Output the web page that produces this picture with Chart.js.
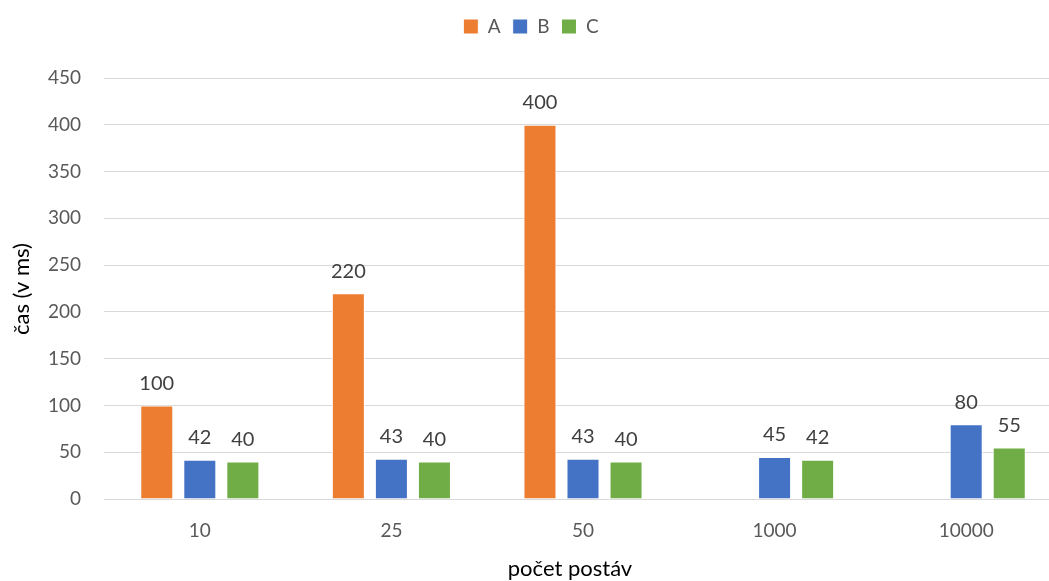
<!DOCTYPE html>
<html>
<head>
<meta charset="utf-8">
<script src="https://cdn.jsdelivr.net/npm/chart.js@4/dist/chart.umd.min.js"></script>
<style>
  html, body { margin: 0; padding: 0; background: #fff; overflow: hidden; }
  #wrap { position: relative; width: 1075px; height: 581px; }
</style>
</head>
<body>
<div id="wrap"><canvas id="c" width="1075" height="581"></canvas></div>
<script>
// Categories (number of characters) and measured times per variant
const categories = ['10', '25', '50', '1000', '10000'];
const seriesA = [100, 220, 400, null, null];
const seriesB = [42, 43, 43, 45, 80];
const seriesC = [40, 40, 40, 42, 55];
const yTicks = [0, 50, 100, 150, 200, 250, 300, 350, 400, 450];

const FONT = 'Lato, "Open Sans", sans-serif';

// Extra room between the legend row and the plot
const legendGap = {
  id: 'legendGap',
  beforeInit(chart) {
    const legend = chart.legend;
    if (!legend) return;
    const fit = legend.fit;
    legend.fit = function () {
      fit.call(this);
      this.height += 32;
    };
  }
};

// Value labels above each bar
const valueLabels = {
  id: 'valueLabels',
  afterDatasetsDraw(chart) {
    const ctx = chart.ctx;
    ctx.save();
    ctx.font = '20px ' + FONT;
    ctx.fillStyle = '#404040';
    ctx.textAlign = 'center';
    ctx.textBaseline = 'bottom';
    chart.data.datasets.forEach((ds, i) => {
      const meta = chart.getDatasetMeta(i);
      meta.data.forEach((bar, j) => {
        const v = ds.data[j];
        if (v === null || v === undefined) return;
        ctx.fillText(String(v), bar.x, bar.y - 12);
      });
    });
    ctx.restore();
  }
};

// Axis titles
const axisTitles = {
  id: 'axisTitles',
  afterDraw(chart) {
    const ctx = chart.ctx;
    ctx.save();
    ctx.font = '22px ' + FONT;
    ctx.fillStyle = '#000';
    ctx.textAlign = 'center';
    ctx.textBaseline = 'middle';
    ctx.fillText('počet postáv', 570, 569);
    ctx.translate(22, 289);
    ctx.rotate(-Math.PI / 2);
    ctx.fillText('čas (v ms)', 0, 0);
    ctx.restore();
  }
};

new Chart(document.getElementById('c'), {
  type: 'bar',
  data: {
    labels: categories,
    datasets: [
      { label: 'A', data: seriesA, backgroundColor: '#ED7D31' },
      { label: 'B', data: seriesB, backgroundColor: '#4472C4' },
      { label: 'C', data: seriesC, backgroundColor: '#70AD47' }
    ]
  },
  options: {
    responsive: false,
    animation: false,
    devicePixelRatio: 1,
    layout: { padding: { top: 5, left: 0, right: 13, bottom: 0 } },
    datasets: {
      bar: {
        categoryPercentage: 0.674,
        barPercentage: 0.767,
        borderColor: '#ffffff',
        borderWidth: 1,
        skipNull: false
      }
    },
    plugins: {
      legend: {
        position: 'top',
        labels: {
          boxWidth: 15,
          boxHeight: 15,
          padding: 12,
          color: '#595959',
          font: { family: FONT, size: 19 }
        }
      },
      tooltip: { enabled: false }
    },
    scales: {
      x: {
        grid: { display: false, drawTicks: false },
        border: { display: true, color: '#d9d9d9', width: 1 },
        ticks: { color: '#595959', font: { family: FONT, size: 19 }, padding: 20 },
        afterFit(scale) { scale.height = 82; }
      },
      y: {
        min: 0,
        max: 450,
        afterBuildTicks(scale) { scale.ticks = yTicks.map(v => ({ value: v })); },
        grid: { color: '#d9d9d9', lineWidth: 1, drawTicks: false },
        border: { display: false },
        ticks: { color: '#595959', font: { family: FONT, size: 19 }, padding: 23 },
        afterFit(scale) { scale.width = 104; }
      }
    }
  },
  plugins: [legendGap, valueLabels, axisTitles]
});
</script>
</body>
</html>
